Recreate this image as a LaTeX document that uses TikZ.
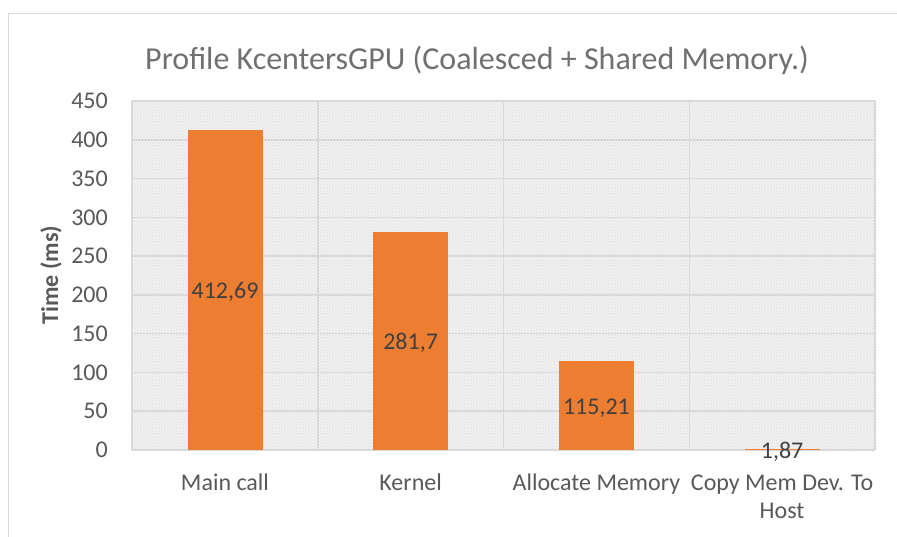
\documentclass[tikz,border=0pt]{standalone}
\usepackage{fontspec}
\setmainfont{Carlito}
\usetikzlibrary{patterns}
\definecolor{barorange}{HTML}{ED7D31}
\definecolor{gridgray}{HTML}{D9D9D9}
\definecolor{axistext}{HTML}{595959}
\definecolor{labeltext}{HTML}{404040}
\definecolor{titletext}{HTML}{707070}
\definecolor{hatchbg}{HTML}{F8F8F8}
\definecolor{hatchline}{HTML}{E4E4E4}

\begin{document}
\begin{tikzpicture}[x=1pt,y=-1pt,
  bar/.style={fill=barorange,draw=none},
  gridline/.style={draw=gridgray,line width=1.5pt},
  frame/.style={draw=gridgray,line width=1.5pt},
  ticklabel/.style={anchor=east,text=axistext,font=\fontsize{24}{28}\selectfont,inner sep=0pt},
  catlabel/.style={anchor=base,text=axistext,font=\fontsize{24}{28}\selectfont,align=center,inner sep=0pt},
  datalabel/.style={anchor=base,text=labeltext,font=\fontsize{24}{28}\selectfont,inner sep=0pt},
  axistitle/.style={text=axistext,font=\fontsize{24}{28}\selectfont\bfseries,inner sep=0pt,rotate=90},
  charttitle/.style={anchor=base,text=titletext,font=\fontsize{32}{38}\selectfont,inner sep=0pt},
]
\useasboundingbox (0,0) rectangle (897,536);
\clip (0,0) rectangle (897,536);
\fill[white] (0,0) rectangle (897,536);

% chart area frame (runs past the page on the right and bottom)
\draw[frame] (8.5,13.5) rectangle (960,600);

% title
\node[charttitle] (title) at (477,69) {Profile KcentersGPU (Coalesced + Shared Memory.)};

% plot area with fine hatch
\fill[hatchbg] (132,101) rectangle (875,450);
\fill[pattern=crosshatch,pattern color=hatchline] (132,101) rectangle (875,450);

% horizontal gridlines and tick labels (0 .. 450, step 50)
\foreach \v [count=\i from 0] in {0,50,...,450} {
  \pgfmathsetmacro{\yy}{450-\v*0.7755556}
  \draw[gridline] (132,\yy) -- (875,\yy);
  \node[ticklabel] (tick\i) at (108,\yy) {\v};
}
% vertical category separators
\foreach \xx in {132,317.75,503.5,689.25,875} {
  \draw[gridline] (\xx,101) -- (\xx,450);
}

% bars: value -> top edge at 450 - v*349/450
\foreach \name/\cx/\v/\lab in {bmain/225/412.69/{412,69},bkern/410.6/281.7/{281,7},balloc/596.4/115.21/{115,21},bcopy/782.1/1.87/{1,87}} {
  \pgfmathsetmacro{\ytop}{450-\v*0.7755556}
  \pgfmathsetmacro{\ymid}{(450+\ytop)/2+9}
  \fill[bar] (\cx-37.5,\ytop) rectangle (\cx+37.5,450);
  \node[datalabel] (\name-label) at (\cx,\ymid) {\lab};
}

% category labels (a two-line label sits on the baseline of its last line)
\node[catlabel] (cat1) at (225,490) {Main call};
\node[catlabel] (cat2) at (410.6,490) {Kernel};
\node[catlabel] (cat3) at (596.4,490) {Allocate Memory};
\node[catlabel] (cat4) at (782.1,518) {Copy Mem Dev. To\\Host};

% value axis title
\node[axistitle] (ytitle) at (51,275) {Time (ms)};
\end{tikzpicture}
\end{document}
